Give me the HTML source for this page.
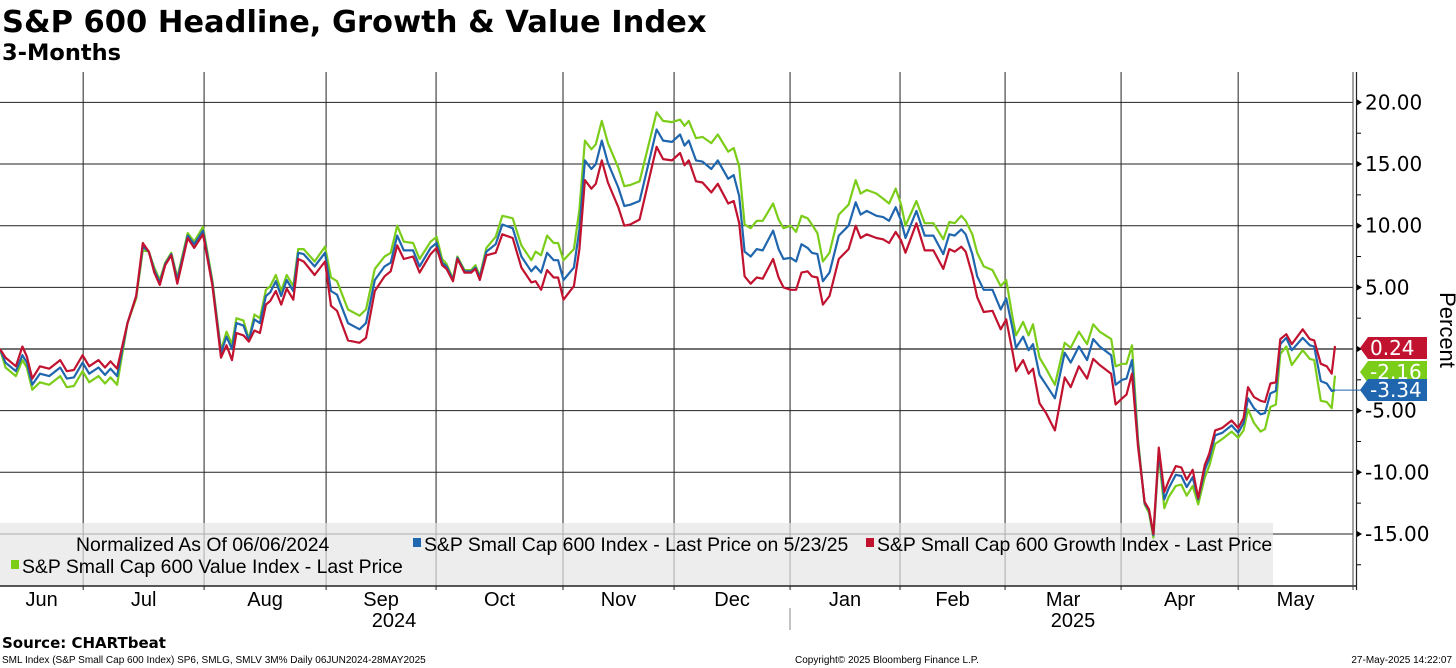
<!DOCTYPE html>
<html><head><meta charset="utf-8"><style>
html,body{margin:0;padding:0;background:#fff;width:1456px;height:668px;overflow:hidden}
svg{display:block}
text{font-family:"Liberation Sans",sans-serif}
</style></head><body>
<svg id="chart" width="1456" height="668" viewBox="0 0 1456 668">
<text x="2" y="32" font-weight="bold" font-size="30.5" style="font-family:'DejaVu Sans',sans-serif">S&amp;P 600 Headline, Growth &amp; Value Index</text>
<text x="2" y="60" font-weight="bold" font-size="22.5" style="font-family:'DejaVu Sans',sans-serif">3-Months</text>
<g id="grid"></g>
<rect x="0" y="523" width="1273" height="63" fill="#e6e6e6" opacity="0.7"/>
<g id="series"></g>
<g id="axes"></g>
<g font-size="19.4">
<text x="76" y="551">Normalized As Of 06/06/2024</text>
<rect x="413" y="538" width="8" height="9" fill="#1f66ae"/>
<text x="424" y="551">S&amp;P Small Cap 600 Index - Last Price on 5/23/25</text>
<rect x="866" y="538" width="8" height="9" fill="#c1122f"/>
<text x="877" y="551">S&amp;P Small Cap 600 Growth Index - Last Price</text>
<rect x="11" y="560" width="8" height="9" fill="#7ccd1a"/>
<text x="22" y="573">S&amp;P Small Cap 600 Value Index - Last Price</text>
</g>
<text x="1440" y="330" font-size="22" text-anchor="middle" transform="rotate(90 1440 330)">Percent</text>
<g id="badges"></g>
<text x="2" y="648" font-weight="bold" font-size="15" style="font-family:'DejaVu Sans',sans-serif">Source:  CHARTbeat</text>
<text x="2" y="663" font-size="10">SML Index (S&amp;P Small Cap 600 Index) SP6, SMLG, SMLV 3M%  Daily 06JUN2024-28MAY2025</text>
<text x="795" y="663" font-size="10">Copyright© 2025 Bloomberg Finance L.P.</text>
<text x="1452" y="663" font-size="10" text-anchor="end">27-May-2025 14:22:07</text>
</svg>
<script>
const days = [0,1,2.9,4.1,4.9,5.9,7.3,9,11,12.2,13.5,15.1,16.3,18,19.2,20.2,21.4,23.3,24.9,26.1,27.2,28.2,29.2,30.2,31.3,32.4,34.3,35.5,37.1,38.8,40.4,41.4,42.4,43.2,44.5,45.5,46.5,47.5,48.6,49.4,50.4,51.4,52.4,53.6,54.5,55.5,57.5,59.4,60.5,61.6,63.6,65.7,66.9,68.5,70.3,71.4,72.6,73.8,75.5,76.7,78.7,79.8,80.8,81.6,82.8,83.6,84.9,86.1,86.9,87.7,88.9,90.6,91.8,93.7,95.3,97.1,97.9,98.9,100,101.2,102,103,104.9,105.9,106.9,108.1,108.9,110,111.1,113,114.1,115.2,116.9,120,121.2,122.8,124.3,125.1,125.9,127.2,128.4,130,131.2,133.1,134.1,135.1,136.1,137.2,138.3,139.4,141.3,142.3,143.2,144.5,145.5,146.5,147.6,148.4,149.4,150.4,151.6,153.3,155.1,156.4,157.3,158.4,160.2,161.4,162.5,163.7,164.7,165.5,167.5,169,170.6,172.4,173.5,174.5,175.7,176.5,177.7,178.6,179.8,181.4,182.9,183.9,185.1,185.7,187,188,188.8,190,191.2,192.8,194.6,195.7,197.2,198.7,199.8,201,203.1,203.9,205.1,205.9,206.9,208,209.2,210,210.8,211.8,212.8,213.6,214.9,215.9,216.9,218,219,220.2,221,222.1,223.4,225.1,226.3,227.3,228.1,229.2,230.4,231.2,232.2,233.2,234,235.1,236.1,238.1,239.4,240.2,241.4,242.5,243.4,244];
const indexVals = [0,-1.1,-1.8,-0.5,-1.1,-2.9,-2.0,-2.2,-1.5,-2.4,-2.3,-1.1,-2.0,-1.5,-2.1,-1.6,-2.2,2.1,4.3,8.3,7.9,6.4,5.4,6.9,7.7,5.6,9.2,8.5,9.6,5.4,-0.3,1.0,0.0,2.1,1.9,0.7,2.4,2.1,4.3,4.6,5.5,4.3,5.6,4.7,7.8,7.7,6.7,7.8,4.7,4.4,2.1,1.6,2.1,5.6,6.7,7.0,9.2,8.0,8.0,6.7,8.2,8.6,7.0,6.7,5.6,7.4,6.3,6.3,6.6,5.8,7.9,8.5,10.1,9.8,7.5,6.3,6.7,6.2,7.8,7.2,7.2,5.6,6.6,9.7,15.3,14.6,15.0,16.9,15.1,13.1,11.6,11.7,12.0,17.8,16.9,16.8,17.4,16.5,16.9,15.3,15.2,14.6,15.3,13.8,14.1,12.4,7.9,7.5,8.1,8.0,9.6,8.1,7.3,7.4,7.1,8.5,8.2,7.8,7.7,5.5,6.2,9.2,10.0,11.9,10.9,11.2,10.8,10.7,10.4,11.5,10.4,9.0,11.2,9.2,9.2,7.7,9.3,9.2,9.7,9.3,7.7,5.9,4.8,4.8,3.2,4.1,1.6,0.1,1.0,-0.1,0.4,-2.1,-2.9,-4.0,-0.3,-1.1,0.2,-0.9,0.8,0.2,-0.5,-2.9,-2.5,-2.4,-0.9,-7.6,-12.5,-13.1,-15.1,-8.3,-12.2,-11.3,-10.2,-10.3,-11.2,-10.4,-12.2,-9.8,-8.9,-7.0,-6.8,-6.2,-6.8,-6.0,-4.0,-4.8,-5.3,-5.2,-3.6,-3.4,0.4,0.9,-0.1,0.9,0.3,0.2,-2.6,-2.8,-3.4,-3.34];
const growthVals = [0,-0.7,-1.4,0.2,-0.6,-2.4,-1.4,-1.6,-0.9,-1.8,-1.7,-0.5,-1.4,-0.9,-1.5,-1.0,-1.6,2.1,4.3,8.6,7.9,6.2,5.2,6.8,7.6,5.3,9.0,8.2,9.3,5.2,-0.7,0.3,-0.9,1.3,1.1,0.6,1.5,1.3,3.6,3.9,4.7,3.6,4.9,4.0,7.3,7.1,6.0,7.1,3.5,3.1,0.7,0.5,0.9,4.7,5.9,6.3,8.4,7.3,7.5,6.2,7.7,8.2,6.8,6.5,5.5,7.3,6.2,6.2,6.5,5.6,7.6,7.8,9.3,9.0,6.6,5.4,5.5,4.8,6.4,5.8,5.8,4.0,5.1,8.1,13.7,13.0,13.4,15.3,13.5,11.5,10.0,10.1,10.5,16.4,15.4,15.3,15.9,14.9,15.3,13.6,13.5,12.7,13.4,11.8,12.0,10.2,5.9,5.3,5.8,5.7,7.3,5.8,5.0,4.8,4.8,6.2,6.3,5.9,5.8,3.6,4.3,7.3,8.1,10.0,9.0,9.3,9.0,8.9,8.6,9.5,8.8,7.8,10.2,8.0,8.0,6.5,8.1,7.9,8.3,7.9,6.0,4.2,3.0,3.1,1.6,2.4,-0.3,-1.8,-0.9,-2.0,-1.6,-4.4,-5.2,-6.6,-2.3,-3.1,-1.4,-2.4,-0.8,-1.3,-2.0,-4.5,-4.0,-3.7,-2.0,-7.9,-12.4,-13.0,-15.0,-8.0,-11.6,-10.7,-9.5,-9.6,-10.6,-9.8,-12.1,-9.4,-8.5,-6.6,-6.4,-5.8,-6.4,-5.6,-3.1,-3.9,-4.2,-4.3,-2.8,-2.7,0.8,1.2,0.4,1.6,0.8,0.7,-1.2,-1.4,-2.0,0.24];
const valueVals = [0,-1.5,-2.2,-0.9,-1.5,-3.3,-2.7,-2.9,-2.2,-3.1,-3.0,-1.8,-2.7,-2.2,-2.8,-2.3,-2.9,2.1,4.1,8.0,7.9,6.6,5.6,7.0,7.8,5.8,9.4,8.7,9.9,5.6,-0.1,1.4,0.4,2.5,2.3,0.8,2.8,2.5,4.8,5.1,6.0,4.7,6.0,5.1,8.1,8.1,7.1,8.3,5.8,5.5,3.2,2.7,3.2,6.5,7.5,7.8,10.0,8.7,8.6,7.3,8.7,9.1,7.3,6.9,5.7,7.5,6.4,6.4,6.8,5.9,8.2,9.1,10.8,10.6,8.4,7.2,7.9,7.6,9.2,8.6,8.6,7.2,8.1,11.3,16.9,16.2,16.6,18.5,16.7,14.7,13.2,13.3,13.6,19.2,18.5,18.4,18.6,18.1,18.5,17.1,17.2,16.7,17.4,16.0,16.3,14.8,10.1,9.8,10.4,10.4,11.8,10.5,9.8,10.0,9.5,10.8,10.6,10.1,9.4,7.1,7.8,10.9,11.7,13.7,12.6,12.9,12.6,12.2,11.8,13.0,11.7,10.0,12.0,10.2,10.2,8.9,10.3,10.2,10.8,10.4,9.3,7.8,6.7,6.4,5.1,5.6,2.5,1.1,2.2,1.1,2.0,-0.7,-1.6,-2.9,0.5,0.1,1.4,0.4,2.0,1.4,0.8,-1.4,-1.2,-1.2,0.3,-7.3,-12.6,-13.3,-15.3,-8.6,-12.9,-12.0,-11.1,-11.0,-11.9,-11.1,-12.6,-10.4,-9.5,-7.7,-7.3,-6.7,-7.2,-6.6,-4.9,-6.0,-6.7,-6.5,-4.7,-4.5,-0.4,0.2,-1.3,-0.1,-0.8,-0.9,-4.2,-4.3,-4.8,-2.16];
const yTicks = [20,15,10,5,0,-5,-10,-15];
const yTickLabels = ["20.00","15.00","10.00","5.00","0.00","-5.00","-10.00","-15.00"];
const monthLabels = ["Jun","Jul","Aug","Sep","Oct","Nov","Dec","Jan","Feb","Mar","Apr","May"];
const monthStarts = [-3,15.2,37.3,59.6,79.7,102.9,123.2,144.4,164.5,183.7,204.9,226.3,249];
const yearLabels = ["2024","2025"];

const NS="http://www.w3.org/2000/svg";
const X0=0, XW=1335/244;
function xs(d){return X0+d*XW;}
function ys(v){return 349-v*12.33;}
function mk(tag,attrs,parent){const e=document.createElementNS(NS,tag);for(const k in attrs)e.setAttribute(k,attrs[k]);parent.appendChild(e);return e;}
const grid=document.getElementById('grid'), axes=document.getElementById('axes'), ser=document.getElementById('series'), badges=document.getElementById('badges');

yTicks.forEach((v,i)=>{
  const l=mk('line',{x1:0,x2:1353,y1:ys(v),y2:ys(v),stroke:v===0?'#444':'#222','stroke-width':v===0?1.6:1},grid);
  
  
  const t=mk('path',{d:`M1357 ${ys(v)-3}L1362 ${ys(v)}L1357 ${ys(v)+3}Z`,fill:'#000'},axes);
  
  
  if(v!==0){
    const tx=mk('text',{x:1365,y:ys(v)+7,'font-size':20,style:"font-family:'DejaVu Sans',sans-serif"},axes);
    tx.textContent=yTickLabels[i];
    
    
  }
});
for(let v=17.5;v>-18;v-=5){
  const m=mk('line',{x1:1356,x2:1361,y1:ys(v),y2:ys(v),stroke:'#000'},axes);
  
  
}
monthStarts.forEach((d,i)=>{
  if(i>0&&i<monthStarts.length-1){
    const l=mk('line',{x1:xs(d),x2:xs(d),y1:72,y2:590,stroke:'#222','stroke-width':1},grid);
    
    
  }
  if(i<monthLabels.length){
    const c=(Math.max(xs(d),0)+Math.min(xs(monthStarts[i+1]),1353))/2;
    const t=mk('text',{x:c,y:606,'font-size':20,'text-anchor':'middle'},axes);
    t.textContent=monthLabels[i];
    
    
  }
});
[[394,yearLabels[0]],[1073,yearLabels[1]]].forEach(([x,s])=>{
  const t=mk('text',{x:x,y:627,'font-size':20,'text-anchor':'middle'},axes);
  t.textContent=s;
  
  
});
const sep=mk('line',{x1:790,x2:790,y1:608,y2:630,stroke:'#888'},axes);


const bax=mk('line',{x1:0,x2:1356,y1:586,y2:586,stroke:'#222','stroke-width':1.5},axes);


const ra=mk('line',{x1:1353,x2:1353,y1:72,y2:590,stroke:'#444','stroke-width':1},axes);


const ra2=mk('line',{x1:1356.5,x2:1356.5,y1:72,y2:590,stroke:'#222','stroke-width':1.2},axes);



function draw(vals,color,name){
  const d=vals.map((v,i)=>(i?'L':'M')+xs(days[i]).toFixed(1)+' '+ys(v).toFixed(1)).join('');
  const p=mk('path',{d:d,fill:'none',stroke:color,'stroke-width':2.2,'stroke-linejoin':'round'},ser);
  
  
}
draw(valueVals,'#7ccd1a','value-index-line');
draw(indexVals,'#1f66ae','headline-index-line');
draw(growthVals,'#c1122f','growth-index-line');

function badge(v,color,yc,name,lab){
  const g=mk('g',{},badges);
  
  
  mk('path',{d:`M1360 ${yc}L1368 ${yc-11}L1427 ${yc-11}L1427 ${yc+11}L1368 ${yc+11}Z`,fill:color},g);
  const t=mk('text',{x:1370,y:yc+7,'font-size':20,fill:'#fff',style:"font-family:'DejaVu Sans',sans-serif"},g);
  t.textContent=lab;
}
const lastI=days.length-1;
const lead=mk('line',{x1:xs(days[lastI]),x2:1362,y1:ys(indexVals[lastI]),y2:ys(indexVals[lastI]),stroke:'#1f66ae'},badges);


badge(growthVals[lastI],'#c1122f',348,'growth-last-badge',growthVals[lastI].toFixed(2));
badge(valueVals[lastI],'#7ccd1a',372,'value-last-badge',valueVals[lastI].toFixed(2));
badge(indexVals[lastI],'#1f66ae',390,'index-last-badge',indexVals[lastI].toFixed(2));
</script>
</body></html>
